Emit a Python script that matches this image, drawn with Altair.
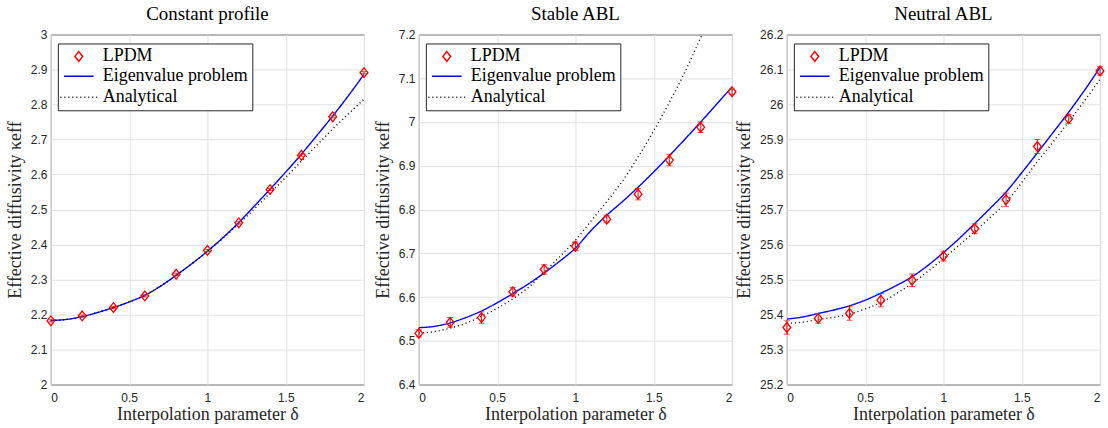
import altair as alt
import pandas as pd

# ---------------- data ----------------
series_names = ["LPDM", "Eigenvalue problem", "Analytical"]
panel_titles = ["Constant profile", "Stable ABL", "Neutral ABL"]

x_pts = [0.0, 0.2, 0.4, 0.6, 0.8, 1.0, 1.2, 1.4, 1.6, 1.8, 2.0]
x_curve = [0.0, 0.1, 0.2, 0.3, 0.4, 0.5, 0.6, 0.7, 0.8, 0.9, 1.0,
           1.1, 1.2, 1.3, 1.4, 1.5, 1.6, 1.7, 1.8, 1.9, 2.0]

const_lpdm = [2.182, 2.196, 2.220, 2.253, 2.315, 2.383, 2.462, 2.557, 2.655, 2.765, 2.891]
const_err = [0.003, 0.003, 0.003, 0.003, 0.003, 0.003, 0.003, 0.003, 0.003, 0.003, 0.003]
const_eig = [2.183, 2.186, 2.194, 2.206, 2.220, 2.236, 2.255, 2.281, 2.312, 2.345, 2.381,
             2.420, 2.463, 2.510, 2.558, 2.607, 2.658, 2.712, 2.767, 2.825, 2.886]
const_ana = [2.183, 2.186, 2.194, 2.206, 2.220, 2.236, 2.255, 2.281, 2.312, 2.345, 2.380,
             2.418, 2.459, 2.502, 2.547, 2.592, 2.638, 2.684, 2.730, 2.773, 2.815]

stable_lpdm = [6.517, 6.542, 6.553, 6.612, 6.663, 6.716, 6.778, 6.835, 6.913, 6.988, 7.069]
stable_err = [0.008, 0.011, 0.013, 0.010, 0.011, 0.010, 0.008, 0.013, 0.013, 0.012, 0.006]
stable_eig = [6.530, 6.533, 6.541, 6.553, 6.568, 6.587, 6.608, 6.630, 6.655, 6.682, 6.712,
              6.752, 6.787, 6.818, 6.851, 6.886, 6.923, 6.961, 7.000, 7.040, 7.080]
stable_ana = [6.518, 6.521, 6.529, 6.540, 6.556, 6.574, 6.596, 6.622, 6.657, 6.692, 6.730,
              6.774, 6.818, 6.865, 6.920, 6.980, 7.045, 7.115, 7.193, 7.275, 7.360]

neutral_lpdm = [25.363, 25.389, 25.403, 25.441, 25.498, 25.567, 25.645, 25.728, 25.880, 25.959, 26.096]
neutral_err = [0.019, 0.014, 0.019, 0.019, 0.018, 0.014, 0.014, 0.019, 0.020, 0.013, 0.012]
neutral_eig = [25.387, 25.393, 25.403, 25.413, 25.425, 25.441, 25.461, 25.483, 25.508, 25.540, 25.577,
               25.617, 25.660, 25.704, 25.750, 25.805, 25.862, 25.920, 25.978, 26.040, 26.106]
neutral_ana = [25.375, 25.378, 25.386, 25.392, 25.401, 25.416, 25.434, 25.460, 25.489, 25.523, 25.560,
               25.598, 25.637, 25.678, 25.720, 25.777, 25.837, 25.893, 25.951, 26.010, 26.072]

x_ticks = [0, 0.5, 1, 1.5, 2]
const_yticks = [2.0, 2.1, 2.2, 2.3, 2.4, 2.5, 2.6, 2.7, 2.8, 2.9, 3.0]
stable_yticks = [6.4, 6.5, 6.6, 6.7, 6.8, 6.9, 7.0, 7.1, 7.2]
neutral_yticks = [25.2, 25.3, 25.4, 25.5, 25.6, 25.7, 25.8, 25.9, 26.0, 26.1, 26.2]

# ---------------- styling ----------------
SERIF = "Liberation Serif"
SANS = "Liberation Sans"
DIAMOND = "M-0.8,0L0,-1L0.8,0L0,1Z"
LEGEND_LINE = "M-2.05,0L2.05,0"
W, H = 314, 351

color_scale = alt.Scale(domain=series_names, range=["#ff0000", "#0000ff", "#000000"])
shape_scale = alt.Scale(domain=series_names, range=[DIAMOND, LEGEND_LINE, LEGEND_LINE])
size_scale = alt.Scale(domain=series_names, range=[95, 324, 324])
dash_scale = alt.Scale(domain=series_names, range=[[1, 0], [1, 0], [1, 3]])

legend = alt.Legend(
    title=None, orient="none", legendX=7, legendY=9,
    strokeColor="#262626", fillColor="white", padding=4,
    labelFont=SERIF, labelFontSize=18, labelColor="#000000",
    labelOffset=14, symbolOffset=7, rowPadding=2, symbolStrokeWidth=1.5,
)


def panel(title, lpdm, err, eig, ana, yticks):
    dom = [yticks[0], yticks[-1]]
    pts = pd.DataFrame({"x": x_pts, "y": lpdm, "series": series_names[0]})
    pts["lo"] = [v - e for v, e in zip(lpdm, err)]
    pts["hi"] = [v + e for v, e in zip(lpdm, err)]
    curves = pd.concat([
        pd.DataFrame({"x": x_curve, "y": eig, "series": series_names[1]}),
        pd.DataFrame({"x": x_curve, "y": ana, "series": series_names[2]}),
    ])

    xaxis = alt.Axis(values=x_ticks, format=".1~f", title="Interpolation parameter δ")
    xscale = alt.Scale(domain=[0, 2], nice=False)
    yaxis = alt.Axis(values=yticks, format=".1~f", title="Effective diffusivity κeff",
                     labelOverlap=False)
    yscale = alt.Scale(domain=dom, nice=False, zero=False)

    def X():
        return alt.X("x:Q", scale=xscale, axis=xaxis)

    def Y(field):
        return alt.Y(field, scale=yscale, axis=yaxis)

    lines = alt.Chart(curves).mark_line(clip=True, strokeWidth=1.4, interpolate="monotone").encode(
        x=X(),
        y=Y("y:Q"),
        color=alt.Color("series:N", scale=color_scale, legend=legend),
        strokeDash=alt.StrokeDash("series:N", scale=dash_scale, legend=legend),
        detail="series:N",
    )
    bars = alt.Chart(pts).mark_rule(color="#ff0000", strokeWidth=1).encode(
        x=X(), y=Y("lo:Q"), y2="hi:Q")
    cap_lo = alt.Chart(pts).mark_tick(color="#ff0000", orient="horizontal",
                                      size=6, thickness=1).encode(x=X(), y=Y("lo:Q"))
    cap_hi = alt.Chart(pts).mark_tick(color="#ff0000", orient="horizontal",
                                      size=6, thickness=1).encode(x=X(), y=Y("hi:Q"))
    points = alt.Chart(pts).mark_point(filled=False, strokeWidth=1.3, opacity=1).encode(
        x=X(),
        y=Y("y:Q"),
        color=alt.Color("series:N", scale=color_scale, legend=legend),
        shape=alt.Shape("series:N", scale=shape_scale, legend=legend),
        size=alt.Size("series:N", scale=size_scale, legend=legend),
    )
    return alt.layer(lines, bars, cap_lo, cap_hi, points).properties(
        width=W, height=H,
        title=alt.TitleParams(title, font=SERIF, fontSize=19, fontWeight="normal",
                              color="#000000", offset=5),
    )


p1 = panel(panel_titles[0], const_lpdm, const_err, const_eig, const_ana, const_yticks)
p2 = panel(panel_titles[1], stable_lpdm, stable_err, stable_eig, stable_ana, stable_yticks)
p3 = panel(panel_titles[2], neutral_lpdm, neutral_err, neutral_eig, neutral_ana, neutral_yticks)

chart = alt.hconcat(p1, p2, p3, spacing=55, bounds="flush").resolve_scale(
    color="independent", shape="independent", size="independent", strokeDash="independent"
).configure(
    background="white",
    padding={"left": 5, "top": 3, "right": 1, "bottom": 2},
).configure_view(
    stroke="#262626", strokeWidth=1,
).configure_axis(
    grid=True, gridColor="#e0e0e0", gridWidth=1,
    domain=False, ticks=False,
    labelFont=SANS, labelFontSize=12, labelColor="#262626", labelPadding=4,
    titleFont=SERIF, titleFontSize=18, titleFontWeight="normal", titleColor="#262626",
).configure_axisX(
    labelPadding=8, titlePadding=2,
).configure_axisY(
    titlePadding=6,
)

chart.save("out.html", embed_options={"renderer": "svg", "actions": False})
